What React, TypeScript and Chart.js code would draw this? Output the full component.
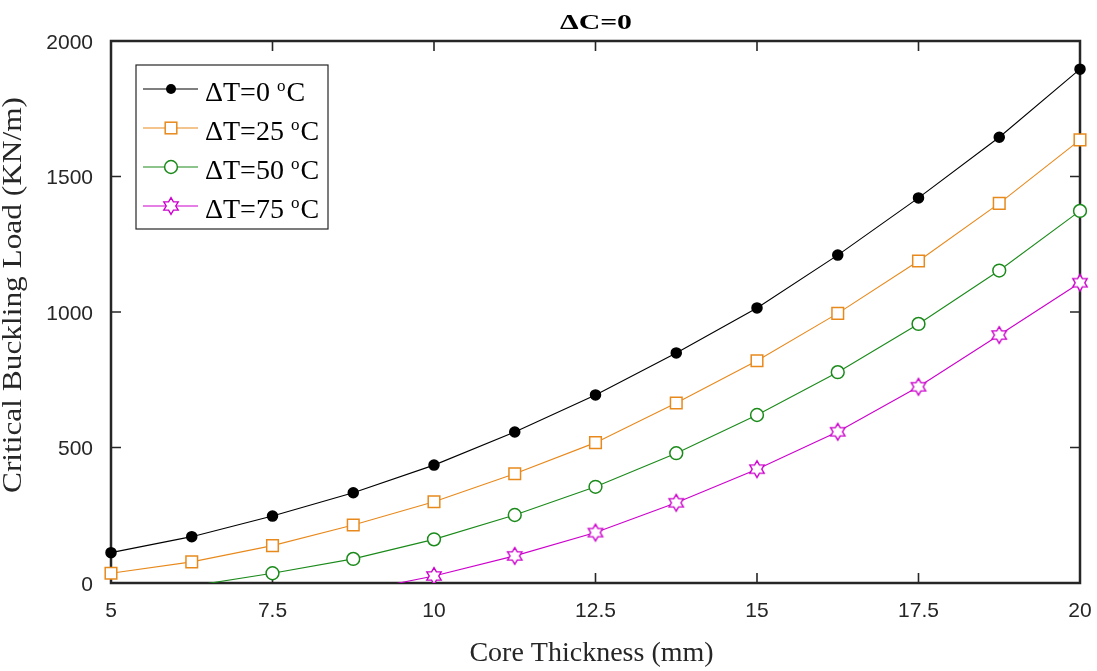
import { useEffect, useRef } from "react";
import { Chart, registerables } from "chart.js";

Chart.register(...registerables);

// Core thickness (mm) at which the buckling load was evaluated
const thickness = [5, 6.25, 7.5, 8.75, 10, 11.25, 12.5, 13.75, 15, 16.25, 17.5, 18.75, 20];

// Critical buckling load (KN/m) for each temperature rise
const loadDT0 = [112, 171, 247, 333, 435, 557, 694, 849, 1015, 1210, 1421, 1645, 1896];
const loadDT25 = [36, 78, 138, 214, 300, 403, 518, 664, 820, 995, 1188, 1401, 1635];
const loadDT50 = [null, -11, 36, 89, 161, 251, 355, 479, 620, 778, 956, 1153, 1373];
const loadDT75 = [null, null, null, -34, 26, 100, 186, 296, 420, 558, 724, 915, 1108];

const seriesLabels = ["ΔT=0", "ΔT=25", "ΔT=50", "ΔT=75"];
const xTicks = [5, 7.5, 10, 12.5, 15, 17.5, 20];
const yTicks = [0, 500, 1000, 1500, 2000];

const chartTitle = "ΔC=0";
const xTitle = "Core Thickness (mm)";
const yTitle = "Critical Buckling Load (KN/m)";

const AXIS_COLOR = "#262626";
const SERIF = '"Liberation Serif", "Times New Roman", serif';
const SANS = '"Liberation Sans", Arial, Helvetica, sans-serif';

const seriesColors = ["#000000", "#E8891C", "#1A8A1A", "#CC00CC"];

function traceHexagram(ctx: CanvasRenderingContext2D, cx: number, cy: number, R: number) {
  const r = R / Math.sqrt(3);
  ctx.beginPath();
  for (let k = 0; k < 12; k++) {
    const ang = -Math.PI / 2 + (k * Math.PI) / 6;
    const rad = k % 2 === 0 ? R : r;
    const x = cx + rad * Math.cos(ang);
    const y = cy + rad * Math.sin(ang);
    if (k === 0) ctx.moveTo(x, y);
    else ctx.lineTo(x, y);
  }
  ctx.closePath();
}

function makeHexagram(color: string, R: number, lw: number): HTMLCanvasElement {
  const size = Math.ceil(2 * R + lw * 2 + 2);
  const c = document.createElement("canvas");
  c.width = size;
  c.height = size;
  const ctx = c.getContext("2d")!;
  traceHexagram(ctx, size / 2, size / 2, R);
  ctx.fillStyle = "#ffffff";
  ctx.fill();
  ctx.strokeStyle = color;
  ctx.lineWidth = lw;
  ctx.lineJoin = "miter";
  ctx.stroke();
  return c;
}

type MarkerKind = "dot" | "square" | "circle" | "hexagram";

function drawMarker(ctx: CanvasRenderingContext2D, kind: MarkerKind, color: string, x: number, y: number) {
  ctx.save();
  ctx.strokeStyle = color;
  ctx.lineWidth = 1.5;
  if (kind === "dot") {
    ctx.beginPath();
    ctx.arc(x, y, 5, 0, Math.PI * 2);
    ctx.fillStyle = color;
    ctx.fill();
  } else if (kind === "square") {
    const h = 8.2 * Math.SQRT1_2;
    ctx.fillStyle = "#ffffff";
    ctx.fillRect(x - h, y - h, 2 * h, 2 * h);
    ctx.strokeRect(x - h, y - h, 2 * h, 2 * h);
  } else if (kind === "circle") {
    ctx.beginPath();
    ctx.arc(x, y, 6.4, 0, Math.PI * 2);
    ctx.fillStyle = "#ffffff";
    ctx.fill();
    ctx.stroke();
  } else {
    traceHexagram(ctx, x, y, 8.3);
    ctx.fillStyle = "#ffffff";
    ctx.fill();
    ctx.lineWidth = 1.4;
    ctx.stroke();
  }
  ctx.restore();
}

const markerKinds: MarkerKind[] = ["dot", "square", "circle", "hexagram"];

const framePlugin = {
  id: "frame",
  beforeDraw(chart: Chart) {
    const ctx = chart.ctx;
    ctx.save();
    ctx.fillStyle = "#ffffff";
    ctx.fillRect(0, 0, chart.width, chart.height);
    ctx.restore();
  },
  beforeDatasetsDraw(chart: Chart) {
    const { ctx, chartArea: ca } = chart;
    const xs = chart.scales.x;
    const ys = chart.scales.y;
    const tick = 10;
    ctx.save();
    ctx.strokeStyle = AXIS_COLOR;
    ctx.lineWidth = 1.6;
    ctx.beginPath();
    for (const v of xTicks) {
      const px = xs.getPixelForValue(v);
      ctx.moveTo(px, ca.bottom);
      ctx.lineTo(px, ca.bottom - tick);
      ctx.moveTo(px, ca.top);
      ctx.lineTo(px, ca.top + tick);
    }
    for (const v of yTicks) {
      const py = ys.getPixelForValue(v);
      ctx.moveTo(ca.left, py);
      ctx.lineTo(ca.left + tick, py);
      ctx.moveTo(ca.right, py);
      ctx.lineTo(ca.right - tick, py);
    }
    ctx.stroke();
    ctx.lineWidth = 2.5;
    ctx.strokeRect(ca.left, ca.top, ca.right - ca.left, ca.bottom - ca.top);
    ctx.restore();
  },
  afterDraw(chart: Chart) {
    const { ctx, chartArea: ca } = chart;
    ctx.save();

    // Title, bold and slightly widened
    ctx.fillStyle = "#000000";
    ctx.font = `bold 21px ${SERIF}`;
    const tw = ctx.measureText(chartTitle).width;
    ctx.translate((ca.left + ca.right) / 2 + 0.5, 28.5);
    ctx.scale(72 / tw, 1);
    ctx.textAlign = "center";
    ctx.textBaseline = "alphabetic";
    ctx.fillText(chartTitle, 0, 0);
    ctx.setTransform(1, 0, 0, 1, 0, 0);

    // Axis titles
    ctx.fillStyle = AXIS_COLOR;
    ctx.font = `28px ${SERIF}`;
    ctx.textAlign = "center";
    ctx.fillText(xTitle, (ca.left + ca.right) / 2 - 4, 661);
    ctx.save();
    ctx.translate(21, 295);
    ctx.rotate(-Math.PI / 2);
    const yw = ctx.measureText(yTitle).width;
    ctx.scale(396 / yw, 1);
    ctx.fillText(yTitle, 0, 0);
    ctx.restore();

    // Legend box
    const lx = ca.left + 25;
    const ly = ca.top + 24;
    const lw = 192;
    const lh = 164;
    ctx.fillStyle = "#ffffff";
    ctx.fillRect(lx, ly, lw, lh);
    ctx.strokeStyle = AXIS_COLOR;
    ctx.lineWidth = 1.2;
    ctx.strokeRect(lx, ly, lw, lh);

    seriesLabels.forEach((label, i) => {
      const rowY = ly + 24 + i * 39;
      const color = seriesColors[i];
      ctx.strokeStyle = color;
      ctx.lineWidth = 1.1;
      ctx.beginPath();
      ctx.moveTo(lx + 7, rowY);
      ctx.lineTo(lx + 62, rowY);
      ctx.stroke();
      drawMarker(ctx, markerKinds[i], color, lx + 35, rowY);

      const tx = lx + 69;
      ctx.fillStyle = "#000000";
      ctx.textAlign = "left";
      ctx.textBaseline = "alphabetic";
      ctx.font = `28px ${SERIF}`;
      const main = `${label} `;
      ctx.fillText(main, tx, rowY + 12);
      const w1 = ctx.measureText(main).width;
      ctx.font = `17px ${SERIF}`;
      ctx.fillText("o", tx + w1, rowY + 2);
      const w2 = ctx.measureText("o").width;
      ctx.font = `28px ${SERIF}`;
      ctx.fillText("C", tx + w1 + w2 + 1, rowY + 12);
    });

    ctx.restore();
  },
};

export default function App() {
  const canvasRef = useRef<HTMLCanvasElement>(null);

  useEffect(() => {
    const canvas = canvasRef.current;
    if (!canvas) return;
    const hexagram = makeHexagram(seriesColors[3], 8.3, 1.4);

    const pointStyles: any[] = ["circle", "rect", "circle", hexagram];
    const pointRadii = [5, 8.2, 6.4, 8.3];
    const pointFills = [seriesColors[0], "#ffffff", "#ffffff", "#ffffff"];
    const series = [loadDT0, loadDT25, loadDT50, loadDT75];

    // markers below the axis floor are not drawn, only the line segment leading in
    const radiusFor = (r: number) => (c: any) => (c.raw && c.raw.y != null && c.raw.y < 0 ? 0 : r);

    const datasets = series.map((vals, i) => ({
      label: seriesLabels[i],
      data: thickness.map((x, j) => ({ x, y: vals[j] })),
      borderColor: seriesColors[i],
      borderWidth: 1.1,
      pointStyle: pointStyles[i],
      pointRadius: radiusFor(pointRadii[i]),
      pointHoverRadius: radiusFor(pointRadii[i]),
      pointBackgroundColor: pointFills[i],
      pointBorderColor: seriesColors[i],
      pointBorderWidth: 1.5,
      tension: 0,
      spanGaps: false,
      clip: { left: 14, right: 14, top: 14, bottom: 0 },
    }));

    const tickFont = { family: SANS, size: 21 };

    const chart = new Chart(canvas, {
      type: "line",
      data: { datasets: datasets as any },
      options: {
        animation: false,
        responsive: false,
        events: [],
        layout: { padding: { left: 0, top: 41, right: 17, bottom: 0 } },
        plugins: {
          legend: { display: false },
          title: { display: false },
          tooltip: { enabled: false },
        },
        scales: {
          x: {
            type: "linear",
            min: 5,
            max: 20,
            grid: { display: false, drawTicks: false },
            border: { display: false },
            afterBuildTicks: (scale: any) => {
              scale.ticks = xTicks.map((v) => ({ value: v }));
            },
            afterFit: (scale: any) => {
              scale.height = 88;
              scale.paddingLeft = 0;
              scale.paddingRight = 0;
            },
            ticks: {
              autoSkip: false,
              maxRotation: 0,
              color: AXIS_COLOR,
              font: tickFont,
              padding: 16,
              callback: (v: any) => String(v),
            },
          },
          y: {
            type: "linear",
            min: 0,
            max: 2000,
            grid: { display: false, drawTicks: false },
            border: { display: false },
            afterBuildTicks: (scale: any) => {
              scale.ticks = yTicks.map((v) => ({ value: v }));
            },
            afterFit: (scale: any) => {
              scale.width = 111;
              scale.paddingTop = 0;
              scale.paddingBottom = 0;
            },
            ticks: {
              autoSkip: false,
              color: AXIS_COLOR,
              font: tickFont,
              padding: 18,
              labelOffset: 2,
              callback: (v: any) => String(v),
            },
          },
        },
      },
      plugins: [framePlugin],
    });

    return () => chart.destroy();
  }, []);

  return (
    <div style={{ position: "absolute", left: 0, top: 0, width: 1097, height: 671, background: "#ffffff" }}>
      <canvas ref={canvasRef} width={1097} height={671} style={{ display: "block" }} />
    </div>
  );
}
